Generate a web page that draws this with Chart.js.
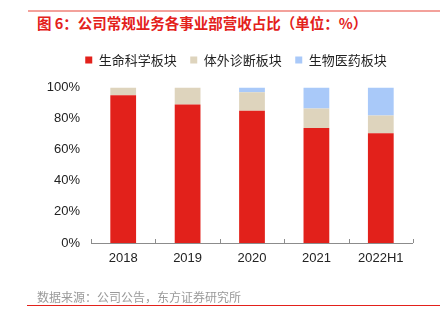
<!DOCTYPE html>
<html>
<head>
<meta charset="utf-8">
<script src="https://cdn.jsdelivr.net/npm/chart.js@4"></script>
<style>
  body { margin: 0; background: #fff; }
  #wrap { position: relative; width: 446px; height: 321px; overflow: hidden; }
  #chart { position: absolute; left: 0; top: 0; }
  .rule-top { position: absolute; left: 28px; top: 10px; width: 412px; height: 2px; background: #f3a19b; }
  .rule-bottom { position: absolute; left: 27px; top: 305px; width: 413px; height: 1px; background: #e3211b; }
  .title { position: absolute; left: 37px; top: 12px; font: bold 14.5px "Noto Sans CJK SC", sans-serif; color: #e3211b; white-space: nowrap; }
  .source { position: absolute; left: 37px; top: 288px; font: 12px "Noto Sans CJK SC", sans-serif; color: #9a9a9a; white-space: nowrap; }
</style>
</head>
<body>
<div id="wrap">
  <div class="rule-top"></div>
  <div class="title">图 6：公司常规业务各事业部营收占比（单位：%）</div>
  <canvas id="chart" width="446" height="321"></canvas>
  <div class="source">数据来源：公司公告，东方证券研究所</div>
  <div class="rule-bottom"></div>
</div>
<script>
// categories and series (share of revenue, %)
var years = ['2018', '2019', '2020', '2021', '2022H1'];
var lifeScience = [95, 89, 85, 74, 70.5];
var ivd = [5, 11, 12, 12.5, 11.5];
var biopharma = [0, 0, 3, 13.5, 18];
var yTicks = [0, 20, 40, 60, 80, 100];

var seriesNames = ['生命科学板块', '体外诊断板块', '生物医药板块'];
var seriesColors = ['#e2211b', '#ded4bd', '#a9c9f9'];

// x axis line with short inner ticks at category boundaries
var axisPlugin = {
    id: 'axisLine',
    afterDatasetsDraw(chart) {
        var ctx = chart.ctx;
        var area = chart.chartArea;
        var n = years.length;
        ctx.save();
        ctx.strokeStyle = '#8c8c8c';
        ctx.lineWidth = 1;
        ctx.beginPath();
        ctx.moveTo(area.left, area.bottom + 0.5);
        ctx.lineTo(area.right, area.bottom + 0.5);
        for (var i = 0; i <= n; i++) {
            var x = Math.round(area.left + i * (area.right - area.left) / n) + 0.5;
            ctx.moveTo(x, area.bottom);
            ctx.lineTo(x, area.bottom - 4);
        }
        ctx.stroke();
        ctx.restore();
    }
};

// more room under the legend, and nudge it right
var legendTweak = {
    id: 'legendTweak',
    beforeInit(chart) {
        var legend = chart.legend;
        var fitLegend = legend.fit;
        var drawLegend = legend.draw;
        legend.fit = function () {
            fitLegend.call(legend);
            this.height += 11;
        };
        legend.draw = function () {
            chart.ctx.save();
            chart.ctx.translate(29.5, 0);
            drawLegend.call(legend);
            chart.ctx.restore();
        };
    }
};

var ctx = document.getElementById('chart').getContext('2d');

let shareChart = new Chart(ctx, {
    type: 'bar',
    data: {
        labels: years,
        datasets: [
            { label: seriesNames[0], data: lifeScience, backgroundColor: seriesColors[0] },
            { label: seriesNames[1], data: ivd, backgroundColor: seriesColors[1] },
            { label: seriesNames[2], data: biopharma, backgroundColor: seriesColors[2] }
        ]
    },
    options: {
        responsive: false,
        animation: false,
        devicePixelRatio: 1,
        layout: { padding: { top: 40, left: 0, right: 33, bottom: 48 } },
        datasets: { bar: { categoryPercentage: 1, barPercentage: 0.4 } },
        plugins: {
            legend: {
                position: 'top',
                labels: {
                    boxWidth: 7,
                    boxHeight: 7,
                    padding: 13.5,
                    color: '#222',
                    font: { family: '"Noto Sans CJK SC", sans-serif', size: 13 }
                }
            },
            tooltip: { enabled: false }
        },
        scales: {
            x: {
                stacked: true,
                grid: { display: false, drawTicks: false },
                border: { display: false },
                ticks: {
                    color: '#222',
                    padding: 8,
                    font: { family: '"Liberation Sans", Arial, sans-serif', size: 13 }
                },
                afterFit(scale) { scale.height = 30; }
            },
            y: {
                stacked: true,
                min: 0,
                max: 100,
                grid: { display: false, drawTicks: false },
                border: { display: false },
                afterBuildTicks(scale) { scale.ticks = yTicks.map(v => ({ value: v })); },
                ticks: {
                    color: '#222',
                    padding: 11,
                    font: { family: '"Liberation Sans", Arial, sans-serif', size: 13 },
                    callback: v => v + '%'
                },
                afterFit(scale) { scale.width = 91; }
            }
        }
    },
    plugins: [axisPlugin, legendTweak]
});
</script>
</body>
</html>
